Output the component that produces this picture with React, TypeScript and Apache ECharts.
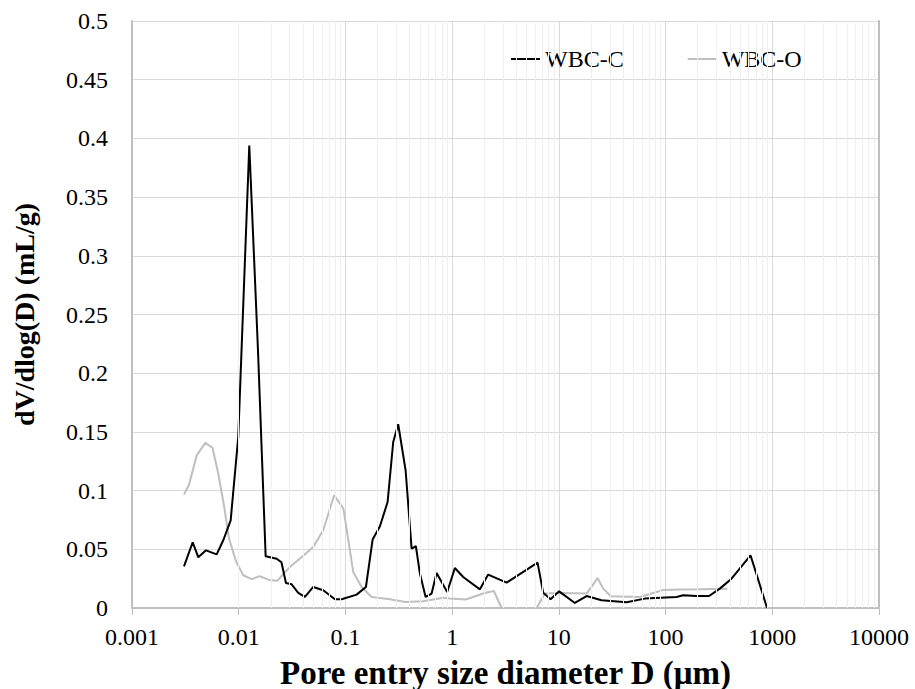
import React, { useEffect, useRef } from 'react';
import * as echarts from 'echarts';

// Tick labels
const xTickLabels = ['0.001', '0.01', '0.1', '1', '10', '100', '1000', '10000'];
const yTickLabels = ['0', '0.05', '0.1', '0.15', '0.2', '0.25', '0.3', '0.35', '0.4', '0.45', '0.5'];
const seriesNames = ['WBC-C', 'WBC-O'];

// WBC-C (black) — pore entry diameter (µm) and dV/dlog(D) (mL/g)
const wbcCX = [
  0.00307, 0.003704, 0.00418, 0.004933, 0.006215, 0.007166, 0.008408, 0.009904, 0.01256, 0.01515,
  0.01788, 0.02268, 0.02515, 0.02771, 0.03133, 0.03613, 0.04175, 0.04993, 0.06194, 0.07973,
  0.09214, 0.1273, 0.1556, 0.1798, 0.2105, 0.2485, 0.2804, 0.3123, 0.3664, 0.417,
  0.4575, 0.4988, 0.5641, 0.642, 0.715, 0.8987, 1.061, 1.269, 1.82, 2.176,
  3.237, 6.318, 7.129, 8.36, 10.06, 14.12, 18.18, 25.12, 43.08, 63.91,
  126.6, 146.0, 195.0, 255.9, 322.3, 414.8, 625.0, 893.9,
];
const wbcCY = [
  0.0355, 0.056, 0.0432, 0.0491, 0.0457, 0.0577, 0.0747, 0.1457, 0.394, 0.22,
  0.044, 0.042, 0.039, 0.0213, 0.0202, 0.0128, 0.0094, 0.0179, 0.0151, 0.0074,
  0.0074, 0.0114, 0.0179, 0.0583, 0.0696, 0.0903, 0.1414, 0.1565, 0.1173, 0.0506,
  0.0526, 0.0293, 0.0094, 0.0123, 0.0298, 0.0136, 0.0341, 0.0264, 0.0159, 0.0285,
  0.0216, 0.0387, 0.0131, 0.0074, 0.0142, 0.0043, 0.0102, 0.0066, 0.0049, 0.008,
  0.0094, 0.0108, 0.0102, 0.0102, 0.0165, 0.025, 0.0449, 0,
];

// WBC-O (grey)
const wbcOX = [
  0.00307, 0.00342, 0.004038, 0.00486, 0.005677, 0.006392, 0.007274, 0.008102, 0.009424, 0.01103,
  0.01323, 0.01572, 0.0192, 0.02307, 0.02683, 0.03021, 0.03749, 0.04993, 0.06194, 0.07836,
  0.09579, 0.1183, 0.1418, 0.176, 0.2612, 0.3648, 0.5356, 0.8246, 0.9526, 1.337,
  2.027, 2.461, 2.905, 4.312, 6.183, 7.393, 10.22, 18.18, 21.74, 23.04,
  26.0, 30.7, 57.4, 94.85, 136.0, 209.3, 378.8,
];
const wbcOY = [
  0.0966, 0.105, 0.13, 0.1407, 0.1365, 0.1156, 0.0875, 0.0594, 0.0398, 0.0279,
  0.0246, 0.0272, 0.0239, 0.0233, 0.03, 0.0349, 0.0421, 0.052, 0.0662, 0.096,
  0.0847, 0.0307, 0.0179, 0.0094, 0.0074, 0.0051, 0.0057, 0.0087, 0.008, 0.0072,
  0.0128, 0.0145, 0, 0, 0, 0.0123, 0.0128, 0.0123, 0.0221, 0.0256,
  0.0165, 0.01, 0.0094, 0.0153, 0.0157, 0.016, 0.0165,
];

const FONT = 'Liberation Serif';

export default function App() {
  const ref = useRef<HTMLDivElement>(null);

  useEffect(() => {
    if (!ref.current) return;
    const chart = echarts.init(ref.current, undefined, { renderer: 'svg' });

    // minor log positions (2..9 within each decade)
    const minorVals: number[] = [];
    for (let e = -3; e < 4; e++) {
      for (let k = 2; k <= 9; k++) minorVals.push(k * Math.pow(10, e));
    }
    const gridMarks = minorVals.map((v) => ({
      xAxis: v,
      lineStyle: { color: '#efefef', width: 1, type: 'solid' as const },
    }));
    const tickMarks = minorVals.map((v) => [
      { coord: [v, 0], lineStyle: { color: '#bfbfbf', width: 1, type: 'solid' as const } },
      { coord: [v, -0.006] },
    ]);

    const tickRich = { t: { fontFamily: FONT, fontSize: 24, color: '#000' } };

    chart.setOption({
      animation: false,
      backgroundColor: '#ffffff',
      textStyle: { fontFamily: FONT },
      grid: {
        left: 132,
        right: 36,
        top: 21,
        bottom: 81,
        containLabel: false,
        outerBoundsMode: 'none',
      },
      legend: {
        data: seriesNames,
        left: 506,
        top: 42,
        icon: 'rect',
        itemWidth: 29,
        itemHeight: 2,
        itemGap: 64,
        textStyle: { fontFamily: FONT, fontSize: 24, color: '#000' },
        selectedMode: false,
      },
      xAxis: {
        type: 'log',
        logBase: 10,
        min: 0.001,
        max: 10000,
        name: 'Pore entry size diameter D (μm)',
        nameLocation: 'middle',
        nameGap: 48,
        nameTextStyle: { fontFamily: FONT, fontSize: 33, fontWeight: 'bold', color: '#000' },
        axisLine: { show: true, onZero: false, lineStyle: { color: '#bfbfbf', width: 2 } },
        axisTick: { show: true, length: 7, lineStyle: { color: '#bfbfbf', width: 1 } },
        axisLabel: {
          fontFamily: FONT,
          fontSize: 24,
          color: '#000',
          margin: 17,
          rich: tickRich,
          formatter: (v: number) => '{t|' + (xTickLabels[Math.round(Math.log10(v)) + 3] ?? '') + '}',
        },
        splitLine: { show: true, lineStyle: { color: '#d9d9d9', width: 1 } },
      },
      yAxis: [
        {
          type: 'value',
          min: 0,
          max: 0.5,
          interval: 0.05,
          name: 'dV/dlog(D) (mL/g)',
          nameLocation: 'middle',
          nameGap: 94,
          nameTextStyle: { fontFamily: FONT, fontSize: 28, fontWeight: 'bold', color: '#000' },
          axisLine: { show: true, lineStyle: { color: '#bfbfbf', width: 2 } },
          axisTick: { show: false },
          axisLabel: {
            fontFamily: FONT,
            fontSize: 24,
            color: '#000',
            margin: 24,
            rich: tickRich,
            formatter: (v: number) => '{t|' + (yTickLabels[Math.round(v / 0.05)] ?? '') + '}',
          },
          splitLine: { show: true, lineStyle: { color: '#d9d9d9', width: 1 } },
        },
        {
          type: 'value',
          position: 'right',
          min: 0,
          max: 0.5,
          interval: 0.05,
          axisLine: { show: true, lineStyle: { color: '#bfbfbf', width: 2 } },
          axisTick: { show: false },
          axisLabel: { show: false },
          splitLine: { show: false },
        },
      ],
      series: [
        {
          name: '__grid',
          type: 'line',
          data: [],
          z: 1,
          clip: false,
          silent: true,
          markLine: {
            silent: true,
            symbol: ['none', 'none'],
            label: { show: false },
            emphasis: { disabled: true },
            animation: false,
            data: [...gridMarks, ...tickMarks],
          },
        },
        {
          name: seriesNames[0],
          type: 'line',
          data: wbcCX.map((x, i) => [x, wbcCY[i]]),
          showSymbol: false,
          symbol: 'none',
          z: 4,
          lineStyle: { color: '#000000', width: 2 },
          itemStyle: { color: '#000000' },
        },
        {
          name: seriesNames[1],
          type: 'line',
          data: wbcOX.map((x, i) => [x, wbcOY[i]]),
          showSymbol: false,
          symbol: 'none',
          z: 3,
          lineStyle: { color: '#bfbfbf', width: 2 },
          itemStyle: { color: '#bfbfbf' },
        },
      ],
    });

    return () => chart.dispose();
  }, []);

  return (
    <div
      ref={ref}
      style={{ position: 'absolute', left: 0, top: 0, width: 915, height: 689, background: '#fff' }}
    />
  );
}
